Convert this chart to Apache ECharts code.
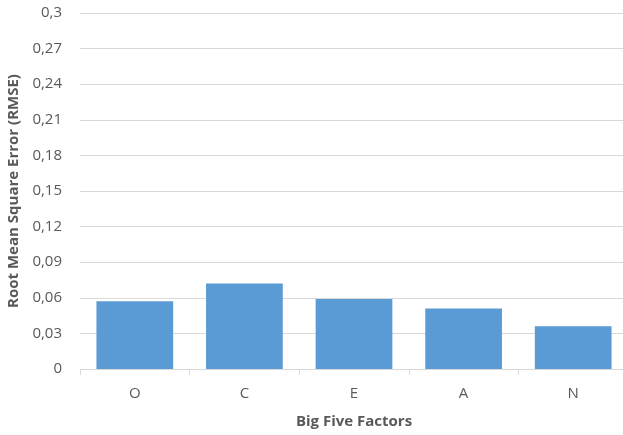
<!DOCTYPE html>
<html>
<head>
<meta charset="utf-8">
<script src="https://cdn.jsdelivr.net/npm/echarts@6/dist/echarts.min.js"></script>
<style>
  html, body { margin: 0; padding: 0; background: #ffffff; }
  #chart { width: 623px; height: 435px; }
</style>
</head>
<body>
<div id="chart"></div>
<script>
// Big Five factors and their RMSE
const factors = ['O', 'C', 'E', 'A', 'N'];
const rmse = [0.057, 0.072, 0.059, 0.051, 0.036];
const yMin = 0;
const yMax = 0.3;
const yStep = 0.03;

const FONT = '"Open Sans", "Noto Sans", sans-serif';
const chart = echarts.init(document.getElementById('chart'));

chart.setOption({
  animation: false,
  backgroundColor: '#ffffff',
  // plot area runs slightly past the right edge of the canvas
  grid: { left: 80, top: 13, width: 548, height: 356, containLabel: false, outerBoundsMode: 'none' },
  xAxis: {
    type: 'category',
    data: factors,
    name: 'Big Five Factors',
    nameLocation: 'middle',
    nameGap: 45,
    nameTextStyle: { fontFamily: FONT, fontSize: 15, fontWeight: 'bold', color: '#595959' },
    axisLine: { lineStyle: { color: '#d9d9d9', width: 1 } },
    axisTick: { show: true, length: 6, alignWithLabel: false, lineStyle: { color: '#d9d9d9' } },
    axisLabel: { fontFamily: FONT, fontSize: 15, color: '#595959', margin: 17 }
  },
  yAxis: {
    type: 'value',
    min: yMin,
    max: yMax,
    interval: yStep,
    name: 'Root Mean Square Error (RMSE)',
    nameLocation: 'middle',
    nameGap: 57,
    nameTextStyle: { fontFamily: FONT, fontSize: 15, fontWeight: 'bold', color: '#595959' },
    axisLine: { show: false },
    axisTick: { show: false },
    splitLine: { lineStyle: { color: '#d9d9d9', width: 1 } },
    axisLabel: {
      fontFamily: FONT, fontSize: 15, color: '#595959', margin: 18,
      formatter: v => String(+v.toFixed(2)).replace('.', ',')
    }
  },
  series: [{
    type: 'bar',
    data: rmse,
    barCategoryGap: '30%',
    itemStyle: { color: '#5b9bd5' }
  }]
});
</script>
</body>
</html>
